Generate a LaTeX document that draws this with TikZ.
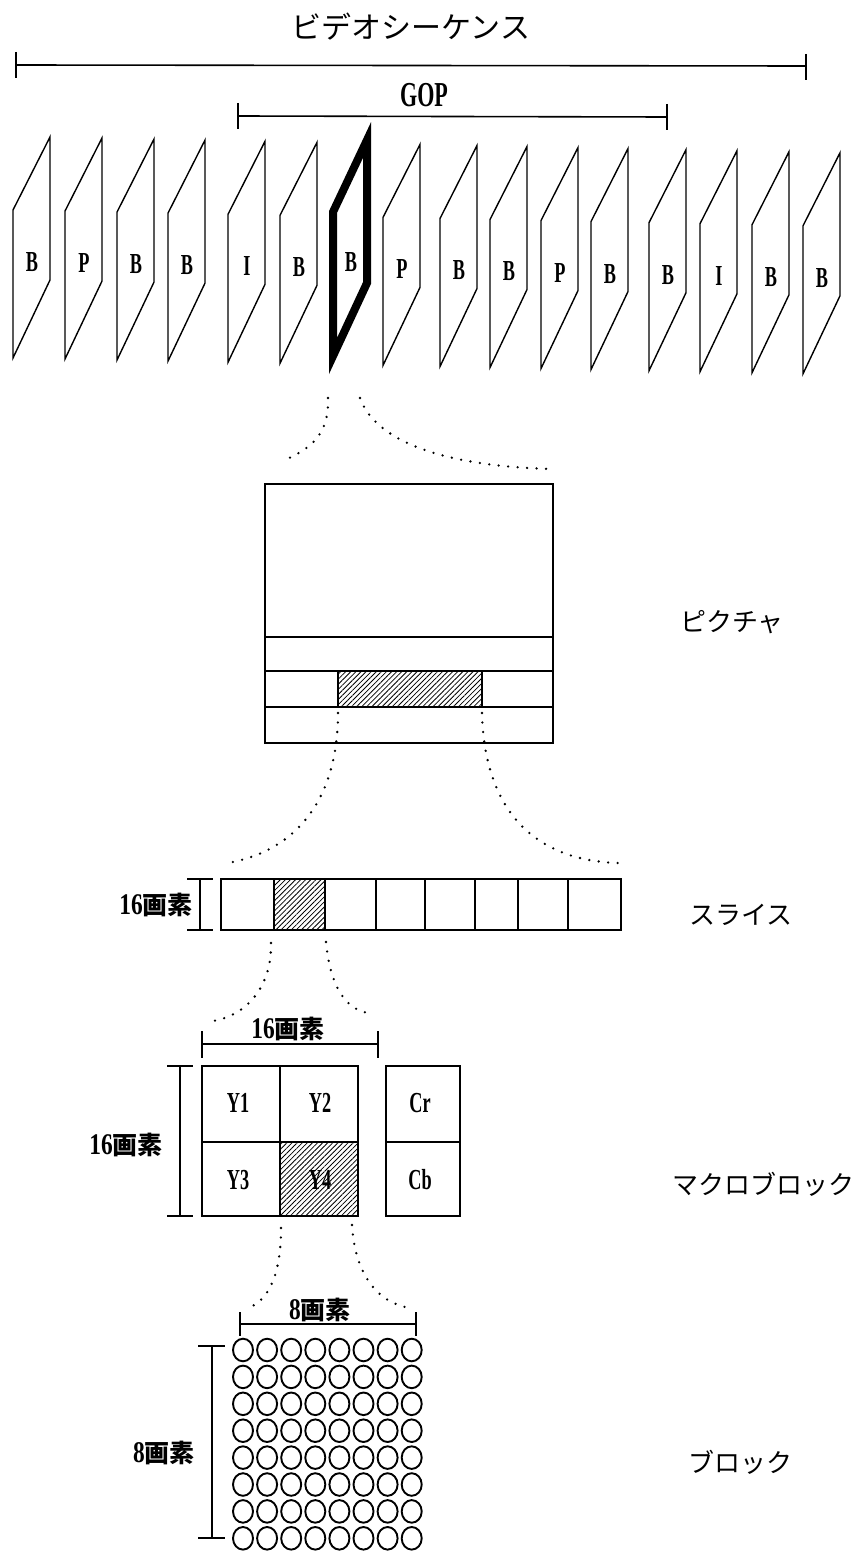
\documentclass[tikz,border=0pt]{standalone}
\usepackage{fontspec}
\setmainfont{Liberation Serif}
\newfontfamily\jp{Noto Sans CJK JP}
\newfontfamily\lat[FakeStretch=0.63]{Liberation Serif}
\newfontfamily\latd[FakeStretch=0.78]{Liberation Serif}
\usetikzlibrary{patterns.meta}
\newcommand\myfs[1]{\fontsize{#1}{#1}\selectfont}
\newcommand\pxlabel[1]{{\latd\bfseries\myfs{30}#1}{\jp\bfseries\myfs{25}画素}}
\tikzset{
  frame/.style={line width=1.4pt, line join=miter},
  thickframe/.style={line width=8pt, line join=miter, miter limit=12},
  lab/.style={inner sep=0pt, font=\lat\bfseries\myfs{29}},
  jlab/.style={inner sep=0pt, font=\jp\myfs{26}},
  brk/.style={line width=1.6pt},
  box/.style={line width=1.9pt},
  hatch/.style={box, pattern={Lines[angle=45,distance=3.6pt,line width=0.8pt]}},
  dots/.style={line width=2.6pt, line cap=round, dash pattern=on 0pt off 9.5pt},
  pix/.style={line width=1.9pt}
}
\begin{document}
\begin{tikzpicture}[x=1pt,y=-1pt]
\path[use as bounding box, fill=white] (0,0) rectangle (858,1552);

% ---- video sequence bracket
\node[jlab, font=\jp\myfs{30}] (vs) at (411,27) {ビデオシーケンス};
\coordinate (sqL) at (16,65);
\coordinate (sqR) at (806,66);
\draw[brk] (sqL) -- (sqR);
\draw[brk] (16,52) -- (16,78);
\draw[brk] (806,54) -- (806,80);

% ---- GOP bracket
\node[lab, font=\lat\bfseries\myfs{35}] (gop) at (424,95) {GOP};
\coordinate (gL) at (238,116);
\coordinate (gR) at (667,117);
\draw[brk] (gL) -- (gR);
\draw[brk] (238,103) -- (238,129);
\draw[brk] (667,104) -- (667,130);

% ---- frames
\foreach \x/\l [count=\i] in {13/B,65/P,117/B,168/B,228/I,280/B,383/P,440/B,490/B,541/P,591/B,649/B,700/I,752/B,803/B}{
  \pgfmathsetmacro\d{0.02*(\x-13)}
  \draw[frame] (\x,358+\d) -- (\x,210+\d) -- (\x+37,137+\d) -- (\x+37,280+\d) -- cycle;
  \node[lab] (f\i) at (\x+19,262+\d) {\l};
}
% selected frame
\draw[thickframe] (333,356) -- (333,212) -- (367,140) -- (367,283) -- cycle;
\node[lab] (fsel) at (351,262) {B};

% ---- dotted zoom from frame to picture
\coordinate (fa) at (328,398);
\coordinate (fb) at (360,398);
\coordinate (pa) at (287,459);
\coordinate (pb) at (552,469);
\draw[dots] (fa) .. controls (329,430) and (316,446) .. (pa);
\draw[dots] (fb) .. controls (375,440) and (440,466) .. (pb);

% ---- picture
\draw[box] (265,484) rectangle (553,743);
\draw[box] (265,637) -- (553,637);
\draw[box] (265,671) -- (553,671);
\draw[box] (265,707) -- (553,707);
\draw[hatch] (338,671) rectangle (482,707);
\node[jlab] (lpic) at (732,622) {ピクチャ};

% ---- dotted from picture slice to slice row
\coordinate (ha) at (338,713);
\coordinate (hb) at (482,713);
\coordinate (sa) at (228,863);
\coordinate (sb) at (618,863);
\draw[dots] (ha) .. controls (338,795) and (300,850) .. (sa);
\draw[dots] (hb) .. controls (484,800) and (525,860) .. (sb);

% ---- slice
\draw[box] (221,879) rectangle (621,930);
\draw[hatch] (274,879) rectangle (325,930);
\foreach \xx in {376,425,475,518,568} \draw[box] (\xx,879) -- (\xx,930);
\draw[brk] (200,879) -- (200,930);
\draw[brk] (187,879) -- (213,879);
\draw[brk] (187,930) -- (213,930);
\node[inner sep=0pt, anchor=east] (s16) at (193,905) {\pxlabel{16}};
\node[jlab] (lsl) at (741,915) {スライス};

% ---- dotted from slice to macroblock
\coordinate (ma) at (271,943);
\coordinate (mb) at (326,942);
\coordinate (mc) at (213,1021);
\coordinate (md) at (369,1013);
\draw[dots] (ma) .. controls (272,985) and (248,1015) .. (mc);
\draw[dots] (mb) .. controls (330,985) and (345,1010) .. (md);

% ---- macroblock
\node[inner sep=0pt] (m16t) at (288,1029) {\pxlabel{16}};
\draw[brk] (202,1044) -- (378,1044);
\draw[brk] (202,1031) -- (202,1058);
\draw[brk] (378,1031) -- (378,1058);
\draw[brk] (180,1066) -- (180,1216);
\draw[brk] (167,1066) -- (193,1066);
\draw[brk] (167,1216) -- (193,1216);
\node[inner sep=0pt] (m16l) at (126,1145) {\pxlabel{16}};
\draw[hatch] (280,1142) rectangle (358,1216);
\draw[box] (202,1066) rectangle (358,1216);
\draw[box] (280,1066) -- (280,1216);
\draw[box] (202,1142) -- (358,1142);
\draw[box] (386,1066) rectangle (460,1216);
\draw[box] (386,1142) -- (460,1142);
\node[lab] (y1) at (238,1103) {Y1};
\node[lab] (y2) at (320,1103) {Y2};
\node[lab] (y3) at (238,1180) {Y3};
\node[lab] (y4) at (320,1180) {Y4};
\node[lab] (cr) at (420,1103) {Cr};
\node[lab] (cb) at (420,1180) {Cb};
\node[jlab, anchor=west] (lmb) at (672,1184) {マクロブロック};

% ---- dotted from Y4 to block
\coordinate (ba) at (281,1228);
\coordinate (bb) at (352,1225);
\coordinate (bc) at (248,1308);
\coordinate (bd) at (410,1308);
\draw[dots] (ba) .. controls (281,1272) and (270,1300) .. (bc);
\draw[dots] (bb) .. controls (355,1275) and (378,1303) .. (bd);

% ---- block
\node[inner sep=0pt] (b8t) at (320,1310) {\pxlabel{8}};
\draw[brk] (240,1324) -- (416,1324);
\draw[brk] (240,1312) -- (240,1336);
\draw[brk] (416,1312) -- (416,1336);
\draw[brk] (212,1346) -- (212,1538);
\draw[brk] (198,1346) -- (225,1346);
\draw[brk] (198,1538) -- (225,1538);
\node[inner sep=0pt] (b8l) at (164,1453) {\pxlabel{8}};
\foreach \c in {0,...,7}{
  \foreach \r in {0,...,7}{
    \draw[pix] (243+24.1*\c,1350+26.9*\r) ellipse [x radius=10pt, y radius=11.3pt];
  }
}
\node[jlab] (lbl) at (740,1462) {ブロック};
\end{tikzpicture}
\end{document}
